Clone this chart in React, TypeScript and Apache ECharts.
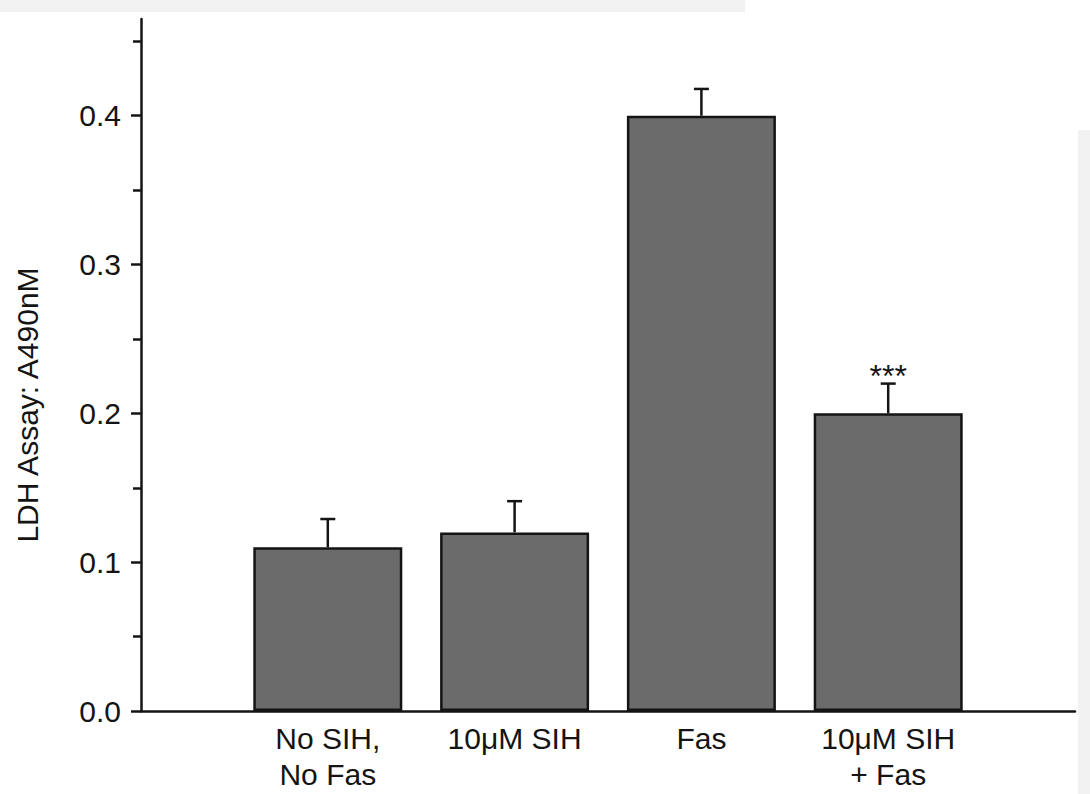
import React, { useEffect, useRef } from "react";
import * as echarts from "echarts";

const categories = ["No SIH,\nNo Fas", "10\u03bcM SIH", "Fas", "10\u03bcM SIH\n+ Fas"];
const means = [0.11, 0.12, 0.4, 0.2];
const upperErrors = [0.129, 0.141, 0.418, 0.22];
const significance = ["", "", "", "***"];
const yTickValues = [0, 0.1, 0.2, 0.3, 0.4];
const yMinorTickValues = [0.05, 0.15, 0.25, 0.35, 0.45];
const yTitle = "LDH Assay: A490nM";

const FONT = "Liberation Sans, Arial, sans-serif";
const INK = "#141414";

export default function App() {
  const ref = useRef<HTMLDivElement>(null);
  useEffect(() => {
    if (!ref.current) return;
    const chart = echarts.init(ref.current, undefined, { renderer: "svg" });
    const barData = means.map((v, i) => [i + 1, v]);
    const errData = means.map((v, i) => [i + 1, v, upperErrors[i]]);
    chart.setOption({
      animation: false,
      backgroundColor: "#ffffff",
      grid: { left: 141, right: 15, top: 19, bottom: 83, containLabel: false },
      xAxis: {
        type: "value",
        min: 0,
        max: 5,
        interval: 1,
        axisLine: { show: true, lineStyle: { color: INK, width: 2.5 } },
        axisTick: { show: false },
        splitLine: { show: false },
        axisLabel: {
          margin: 9,
          fontFamily: FONT,
          fontSize: 30,
          lineHeight: 36,
          color: INK,
          formatter: (v: number) => {
            const i = Math.round(v) - 1;
            return i >= 0 && i < categories.length ? categories[i] : "";
          },
        },
      },
      yAxis: [
        {
          type: "value",
          min: 0,
          max: 0.465,
          position: "left",
          axisLine: { show: true, lineStyle: { color: INK, width: 2.5 } },
          axisTick: {
            show: true,
            length: 10,
            lineStyle: { color: INK, width: 2.5 },
            customValues: yTickValues,
          },
          splitLine: { show: false },
          axisLabel: {
            margin: 20,
            fontFamily: FONT,
            fontSize: 30,
            color: INK,
            customValues: yTickValues,
            formatter: (v: number) => v.toFixed(1),
          },
        },
        {
          type: "value",
          min: 0,
          max: 0.465,
          position: "left",
          axisLine: { show: false },
          axisTick: {
            show: true,
            length: 8,
            lineStyle: { color: INK, width: 2.5 },
            customValues: yMinorTickValues,
          },
          splitLine: { show: false },
          axisLabel: { show: false, customValues: yMinorTickValues },
        },
      ],
      series: [
        {
          type: "bar",
          data: barData,
          barWidth: 149,
          itemStyle: { color: "#6b6b6b", borderColor: INK, borderWidth: 2.5 },
          z: 2,
        },
        {
          type: "custom",
          data: errData,
          z: 3,
          renderItem: (params: any, api: any) => {
            const x = api.value(0);
            const m = api.value(1);
            const u = api.value(2);
            const p0 = api.coord([x, m]);
            const p1 = api.coord([x, u]);
            const half = 7.5;
            const idx = params.dataIndex;
            const children: any[] = [
              {
                type: "line",
                shape: { x1: p0[0], y1: p0[1], x2: p1[0], y2: p1[1] },
                style: { stroke: INK, lineWidth: 2.5 },
              },
              {
                type: "line",
                shape: { x1: p1[0] - half, y1: p1[1], x2: p1[0] + half, y2: p1[1] },
                style: { stroke: INK, lineWidth: 2.5 },
              },
            ];
            if (significance[idx]) {
              children.push({
                type: "text",
                x: p1[0],
                y: p1[1] - 8,
                style: {
                  text: significance[idx],
                  fontFamily: FONT,
                  fontSize: 32,
                  fill: INK,
                  align: "center",
                  verticalAlign: "middle",
                },
              });
            }
            return { type: "group", children };
          },
        },
      ],
      graphic: [
        {
          type: "rect",
          shape: { x: 0, y: 0, width: 745, height: 12 },
          style: { fill: "#f2f2f2" },
          z: 0,
        },
        {
          type: "rect",
          shape: { x: 1078, y: 130, width: 12, height: 664 },
          style: { fill: "#f2f2f2" },
          z: 0,
        },
        {
          type: "text",
          x: 27,
          y: 405,
          rotation: Math.PI / 2,
          style: {
            text: yTitle,
            fontFamily: FONT,
            fontSize: 30,
            fill: INK,
            align: "center",
            verticalAlign: "middle",
          },
        },
      ],
    });
    return () => chart.dispose();
  }, []);
  return (
    <div
      ref={ref}
      style={{ position: "absolute", left: 0, top: 0, width: 1090, height: 794 }}
    />
  );
}
